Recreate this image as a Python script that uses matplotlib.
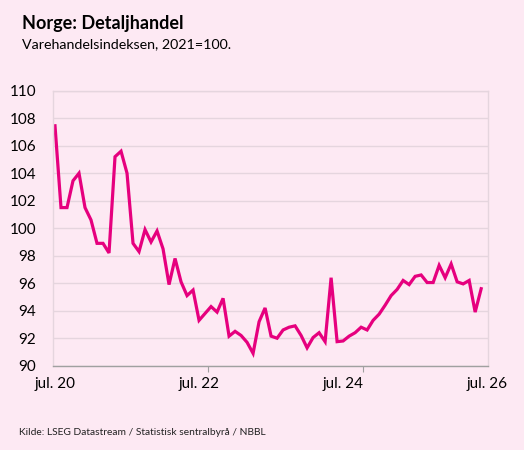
import numpy as np
import pandas as pd
import matplotlib
matplotlib.use("Agg")
import matplotlib.pyplot as plt

# Varehandelsindeksen (2021=100), månedlig fra jul. 2020
months = pd.period_range("2020-07", periods=72, freq="M")
index_values = [
    107.45, 101.5, 101.5, 103.45, 104.0, 101.5, 100.6, 98.9, 98.9, 98.2,
    105.2, 105.6, 104.0, 98.9, 98.3, 99.9, 99.0, 99.8, 98.5, 95.9,
    97.8, 96.1, 95.1, 95.5, 93.3, 93.8, 94.3, 93.9, 94.9, 92.15,
    92.5, 92.2, 91.7, 90.9, 93.2, 94.2, 92.15, 92.0, 92.6, 92.8,
    92.9, 92.2, 91.3, 92.05, 92.4, 91.75, 96.4, 91.75, 91.8, 92.15,
    92.4, 92.8, 92.6, 93.3, 93.75, 94.4, 95.1, 95.55, 96.2, 95.9,
    96.5, 96.6, 96.05, 96.05, 97.3, 96.4, 97.4, 96.1, 95.95, 96.2,
    93.9, 95.6,
]
xlabels = ["jul. 20", "jul. 22", "jul. 24", "jul. 26"]
yticks = list(range(90, 111, 2))

bg = "#fde9f3"
pink = "#e6007e"
grid_c = "#e5d5de"

plt.rcParams["font.family"] = ["Lato", "DejaVu Sans"]

fig = plt.figure(figsize=(5.24, 4.5), dpi=100, facecolor=bg)
ax = fig.add_axes([0.1006, 0.1873, 0.8314, 0.6111], facecolor=bg)

x = np.arange(len(months))
ax.plot(x, index_values, color=pink, lw=2.3, solid_joinstyle="miter")

ax.set_ylim(90, 110)
ax.set_yticks(yticks)
ax.set_xlim(-0.38, 72.2)
ax.set_xticks([0, 24, 48, 72])
ax.set_xticklabels(xlabels)
ax.set_xticks([25.5, 51.3], minor=True)
ax.tick_params(axis="x", which="major", length=0, pad=8, labelsize=11)
ax.tick_params(axis="x", which="minor", length=4, color="#a0a0a0", width=0.8)
ax.tick_params(axis="y", length=0, pad=12, labelsize=11)

ax.grid(axis="y", color=grid_c, lw=1)
ax.set_axisbelow(True)
for s in ["left", "right", "top"]:
    ax.spines[s].set_color(grid_c)
    ax.spines[s].set_linewidth(1)
ax.spines["bottom"].set_color("#a0a0a0")
ax.spines["bottom"].set_linewidth(1)

fig.text(0.042, 0.935, "Norge: Detaljhandel", fontsize=13, fontweight="bold", va="baseline")
fig.text(0.042, 0.893, "Varehandelsindeksen, 2021=100.", fontsize=10.3, va="baseline")
fig.text(0.036, 0.033, "Kilde: LSEG Datastream / Statistisk sentralbyrå / NBBL", fontsize=7.4,
         va="baseline", color="#222222")

fig.savefig("out.png", dpi=100, facecolor=bg)
